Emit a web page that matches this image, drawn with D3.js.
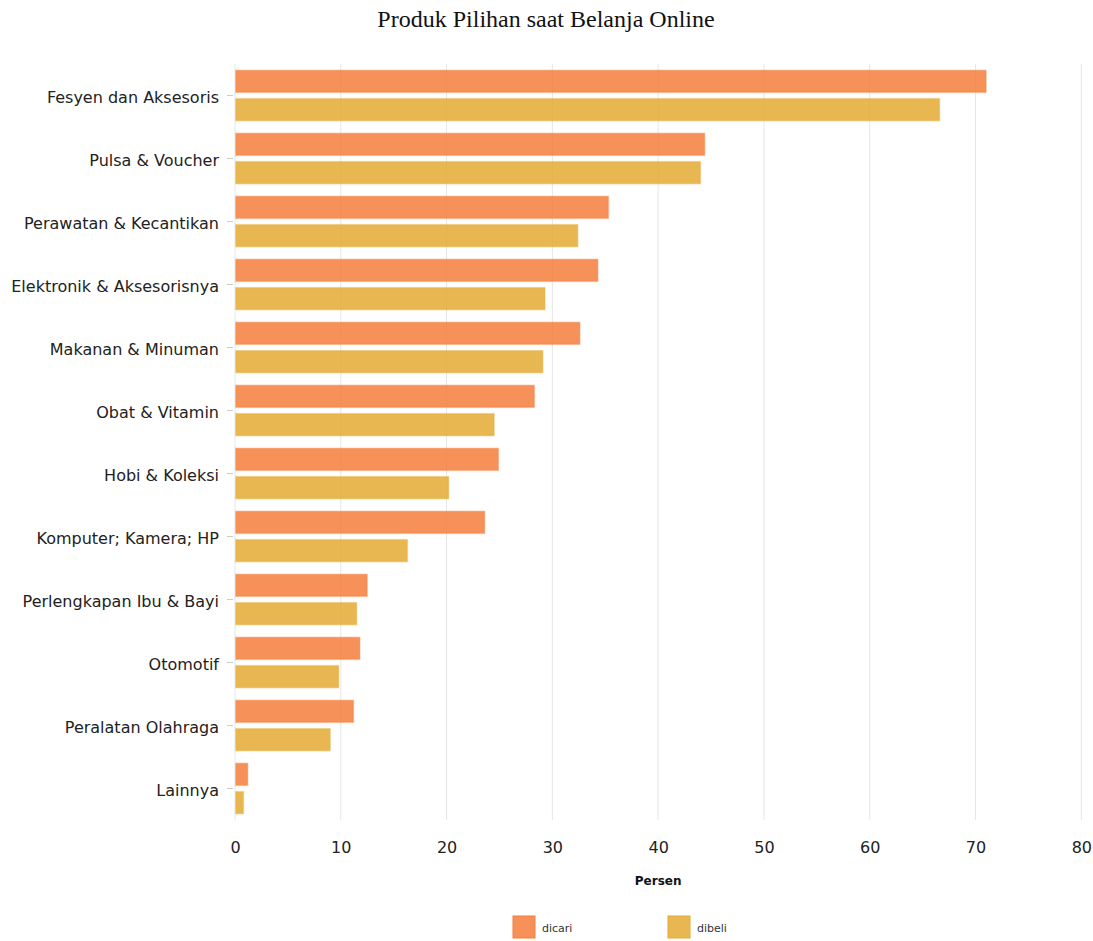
<!DOCTYPE html>
<html>
<head>
<meta charset="utf-8">
<script src="https://cdn.jsdelivr.net/npm/d3@7"></script>
<style>
  body { margin: 0; background: #fff; }
  svg { display: block; }
</style>
</head>
<body>
<svg id="chart" width="1093" height="941"></svg>
<script>
// Product categories, top to bottom
const categories = [
  "Fesyen dan Aksesoris",
  "Pulsa & Voucher",
  "Perawatan & Kecantikan",
  "Elektronik & Aksesorisnya",
  "Makanan & Minuman",
  "Obat & Vitamin",
  "Hobi & Koleksi",
  "Komputer; Kamera; HP",
  "Perlengkapan Ibu & Bayi",
  "Otomotif",
  "Peralatan Olahraga",
  "Lainnya"
];

// Percent of respondents who searched for each category
const dicari = [71.0, 44.4, 35.3, 34.3, 32.6, 28.3, 24.9, 23.6, 12.5, 11.8, 11.2, 1.2];
// Percent of respondents who bought each category
const dibeli = [66.6, 44.0, 32.4, 29.3, 29.1, 24.5, 20.2, 16.3, 11.5, 9.8, 9.0, 0.8];

const seriesNames = ["dicari", "dibeli"];
const xTicks = [0, 10, 20, 30, 40, 50, 60, 70, 80];

const colors = { dicari: "rgb(244,126,60)", dibeli: "rgb(228,170,50)" };

const svg = d3.select("#chart");
const margin = { left: 235, top: 64, bottom: 121 };
const W = 1093, H = 941;
const plotH = H - margin.top - margin.bottom;

const x = d3.scaleLinear().domain([0, 80]).range([margin.left, 1081.3]);
const y = d3.scaleBand().domain(categories).range([margin.top, margin.top + plotH])
  .paddingInner(0.2).paddingOuter(0.1);
const ySub = d3.scaleBand().domain(seriesNames).range([0, y.bandwidth()])
  .paddingInner(0.22).paddingOuter(0);

// Title
svg.append("text")
  .attr("x", 546).attr("y", 27)
  .attr("text-anchor", "middle")
  .style("font-family", "'Liberation Serif', 'Times New Roman', serif")
  .style("font-size", "24px")
  .style("fill", "#111")
  .text("Produk Pilihan saat Belanja Online");

// Vertical grid lines
svg.append("g")
  .selectAll("line")
  .data(xTicks)
  .join("line")
  .attr("x1", d => x(d)).attr("x2", d => x(d))
  .attr("y1", margin.top).attr("y2", margin.top + plotH)
  .attr("stroke", "#e6e6e6").attr("stroke-width", 1);

// X axis labels
const xAxis = svg.append("g")
  .attr("transform", `translate(0,${margin.top + plotH})`)
  .call(d3.axisBottom(x).tickValues(xTicks).tickSize(0).tickPadding(22));
xAxis.select(".domain").remove();
xAxis.selectAll("text")
  .style("font-family", "'DejaVu Sans', Verdana, sans-serif")
  .style("font-size", "16px")
  .style("fill", "#222");

// Y axis with small tick marks
const yAxis = svg.append("g")
  .attr("transform", `translate(${margin.left},0)`)
  .call(d3.axisLeft(y).tickSize(8).tickPadding(8).tickSizeOuter(0));
yAxis.select(".domain").remove();
yAxis.selectAll("line").attr("stroke", "#ccc").attr("x2", -2).attr("x1", -8);
yAxis.selectAll("text")
  .attr("x", -16)
  .attr("dy", "0.45em")
  .style("font-family", "'DejaVu Sans', Verdana, sans-serif")
  .style("font-size", "16px")
  .style("fill", "#222");

// Bars
const rows = categories.map((c, i) => ({ cat: c, dicari: dicari[i], dibeli: dibeli[i] }));
const groups = svg.append("g")
  .selectAll("g")
  .data(rows)
  .join("g")
  .attr("transform", d => `translate(0,${y(d.cat)})`);

groups.selectAll("rect")
  .data(d => seriesNames.map(s => ({ s, v: d[s] })))
  .join("rect")
  .attr("x", x(0) + 0.75)
  .attr("y", d => ySub(d.s))
  .attr("width", d => Math.max(0, x(d.v) - x(0) - 0.75))
  .attr("height", ySub.bandwidth())
  .attr("fill", d => colors[d.s])
  .attr("fill-opacity", 0.85)
  .attr("stroke", d => colors[d.s])
  .attr("stroke-opacity", 0.35)
  .attr("stroke-width", 1.5);

// Axis title
svg.append("text")
  .attr("x", x(40)).attr("y", 885)
  .attr("text-anchor", "middle")
  .style("font-family", "'DejaVu Sans', Verdana, sans-serif")
  .style("font-size", "12px")
  .style("font-weight", "bold")
  .style("fill", "#111")
  .text("Persen");

// Legend
const legendX = [513, 668];
const legend = svg.append("g")
  .selectAll("g")
  .data(seriesNames)
  .join("g")
  .attr("transform", (d, i) => `translate(${legendX[i]},916)`);
legend.append("rect")
  .attr("width", 22).attr("height", 22)
  .attr("fill", d => colors[d]).attr("fill-opacity", 0.85)
  .attr("stroke", d => colors[d]).attr("stroke-width", 1);
legend.append("text")
  .attr("x", 29).attr("y", 15.5)
  .style("font-family", "'DejaVu Sans', Verdana, sans-serif")
  .style("font-size", "11px")
  .style("fill", "#333")
  .text(d => d);
</script>
</body>
</html>
